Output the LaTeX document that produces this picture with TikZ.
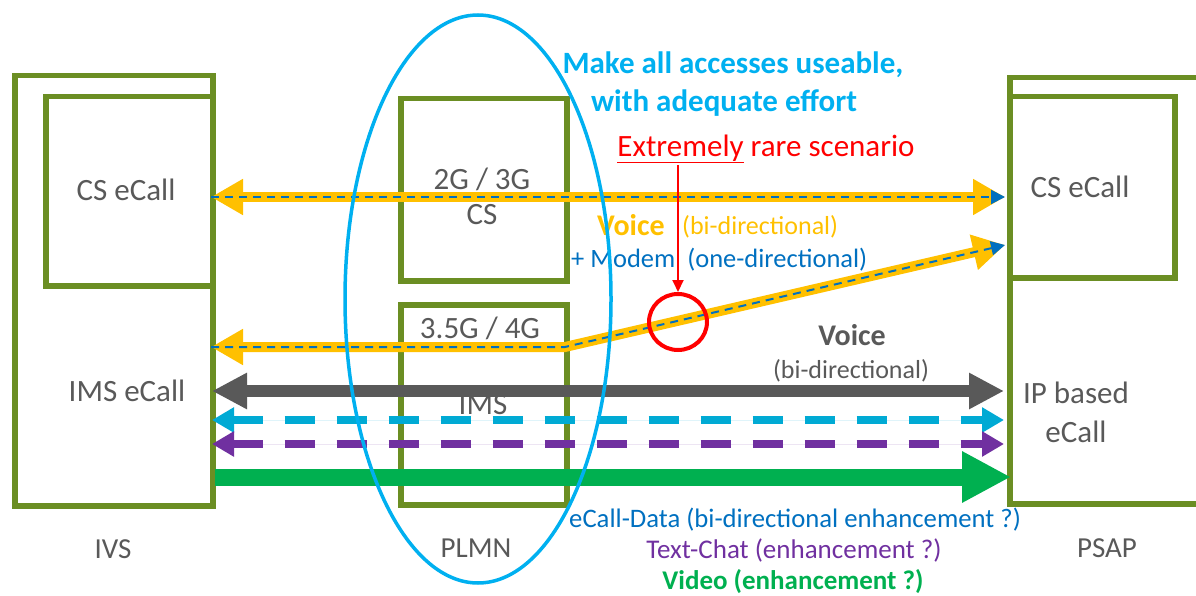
\documentclass[tikz,border=0pt]{standalone}
\usepackage{fontspec}
\setmainfont{Carlito}
\usetikzlibrary{arrows.meta,shapes.geometric}
\newcommand\txtsize[1]{\fontsize{#1}{#1}\selectfont}
\definecolor{boxgreen}{RGB}{107,142,35}
\definecolor{txtgray}{RGB}{89,89,89}
\definecolor{voiceyellow}{RGB}{255,192,0}
\definecolor{modemblue}{RGB}{0,112,192}
\definecolor{plmncyan}{RGB}{0,176,240}
\definecolor{datacyan}{RGB}{0,170,212}
\definecolor{chatpurple}{RGB}{112,48,160}
\definecolor{videogreen}{RGB}{0,176,80}
\definecolor{alertred}{RGB}{255,0,0}
\tikzset{
  box/.style={draw=boxgreen, line width=5.5pt, inner sep=0pt, anchor=north west},
  lbl/.style={text=txtgray, inner sep=0pt, font=\txtsize{31}},
  foot/.style={text=txtgray, inner sep=0pt, font=\txtsize{29}},
  yband/.style={draw=voiceyellow, line width=10pt},
  mdash/.style={draw=modemblue, line width=2pt, dash pattern=on 8pt off 6pt,
    -{Triangle[length=14pt,width=14pt,fill=modemblue]}},
  grayband/.style={draw=txtgray, line width=12pt,
    {Triangle[length=35pt,width=34pt]}-{Triangle[length=35pt,width=34pt]}},
  dashband/.style={line width=8pt, dash pattern=on 30pt off 22pt,
    {Triangle[length=22pt,width=24pt]}-{Triangle[length=22pt,width=24pt]}},
  videoband/.style={draw=videogreen, line width=17pt,
    -{Triangle[length=49pt,width=48pt]}},
}
\begin{document}
\begin{tikzpicture}[x=1pt,y=-1pt]
\useasboundingbox (0,0) rectangle (1196,596);

% network element boxes
\node[box, minimum width=198pt, minimum height=430pt] (ivs) at (12,73) {};
\node[box, minimum width=167pt, minimum height=189pt] (ivscs) at (43,94) {};
\node[box, minimum width=166pt, minimum height=182pt] (cs) at (398,96) {};
\node[box, minimum width=166pt, minimum height=200pt] (ims) at (398,302) {};
\node[box, minimum width=230pt, minimum height=426pt] (psap) at (1007,75) {};
\node[box, minimum width=165pt, minimum height=181pt] (psapcs) at (1007,94) {};

% box labels
\node[lbl] (t1) at (126,190) {CS eCall};
\node[lbl] (t2) at (127,391) {IMS eCall};
\node[lbl] (t3) at (1080,187) {CS eCall};
\node[lbl, align=center, font={\fontsize{31}{39}\selectfont}] (t4) at (1076,412) {IP based\\eCall};
\node[lbl, align=center, font={\fontsize{31}{35}\selectfont}] (t5) at (482,196) {2G / 3G\\CS};
\node[lbl] (t6) at (480,328) {3.5G / 4G};
\node[lbl] (t7) at (483,405) {IMS};
\node[foot] (f1) at (113,549) {IVS};
\node[foot] (f2) at (476,548) {PLMN};
\node[foot] (f3) at (1107,548) {PSAP};

% connector end points
\coordinate (ia) at (211,197);
\coordinate (pa) at (1005,197);
\coordinate (ib) at (211,347);
\coordinate (bend) at (565,347);
\coordinate (pb) at (1005,245);
\coordinate (ic) at (212,391);
\coordinate (pc) at (1004,391);
\coordinate (id) at (212,420);
\coordinate (pd) at (1004,420);
\coordinate (ie) at (212,444);
\coordinate (pe) at (1004,444);
\coordinate (ig) at (215,477);
\coordinate (pg) at (1011,477);

% CS voice paths with modem data
\draw[yband, {Triangle[length=32pt,width=34pt]}-{Triangle[length=32pt,width=34pt]}] (ia) -- (pa);
\draw[mdash] (ia) -- (pa);
\draw[yband, {Triangle[length=32pt,width=34pt]}-{Triangle[length=32pt,width=34pt]}] (ib) -- (bend) -- (pb);
\draw[mdash] (ib) -- (bend) -- (pb);

% IMS media
\draw[grayband] (ic) -- (pc);
\draw[dashband, draw=datacyan, fill=datacyan] (id) -- (pd);
\draw[dashband, draw=chatpurple, fill=chatpurple] (ie) -- (pe);
\draw[videoband] (ig) -- (pg);

% media labels
\node[anchor=west, inner sep=0pt, text=voiceyellow, font=\bfseries\txtsize{30}] (v1) at (597,225) {Voice};
\node[anchor=west, inner sep=0pt, text=voiceyellow, font=\txtsize{26}] (v2) at (682,227) {(bi-directional)};
\node[anchor=west, inner sep=0pt, text=modemblue, font=\txtsize{26.5}] (m1) at (571,260) {+ Modem\hspace{6pt} (one-directional)};
\node[inner sep=0pt, text=txtgray, font=\bfseries\txtsize{30}] (v3) at (852,335) {Voice};
\node[inner sep=0pt, text=txtgray, font=\txtsize{26}] (v4) at (851,371) {(bi-directional)};
\node[anchor=west, inner sep=0pt, text=modemblue, font=\txtsize{26.7}] (d1) at (569,520) {eCall-Data (bi-directional enhancement ?)};
\node[inner sep=0pt, text=chatpurple, font=\txtsize{27}] (d2) at (794,550) {Text-Chat (enhancement ?)};
\node[inner sep=0pt, text=videogreen, font=\bfseries\txtsize{27}] (d3) at (793,582) {Video (enhancement ?)};

% PLMN ellipse
\node[draw=plmncyan, line width=3.5pt, ellipse, minimum width=266pt, minimum height=568pt, inner sep=0pt] (plmn) at (478,299) {};

% rare scenario marker
\node[draw=alertred, line width=4pt, ellipse, minimum width=58pt, minimum height=56pt, inner sep=0pt] (rare) at (678,322) {};
\node[inner sep=0pt, text=alertred, font=\txtsize{31}] (ext) at (766,149) {\underline{Extremely} rare scenario};
\coordinate (extu) at (678,165);
\draw[alertred, line width=2pt, -{Triangle[length=12pt,width=11pt]}] (extu) -- (rare.north);

% headline
\node[inner sep=0pt, text=plmncyan, font=\bfseries\txtsize{31}] (h1) at (733,65) {Make all accesses useable,};
\node[inner sep=0pt, text=plmncyan, font=\bfseries\txtsize{31}] (h2) at (724,103) {with adequate effort};
\end{tikzpicture}
\end{document}
